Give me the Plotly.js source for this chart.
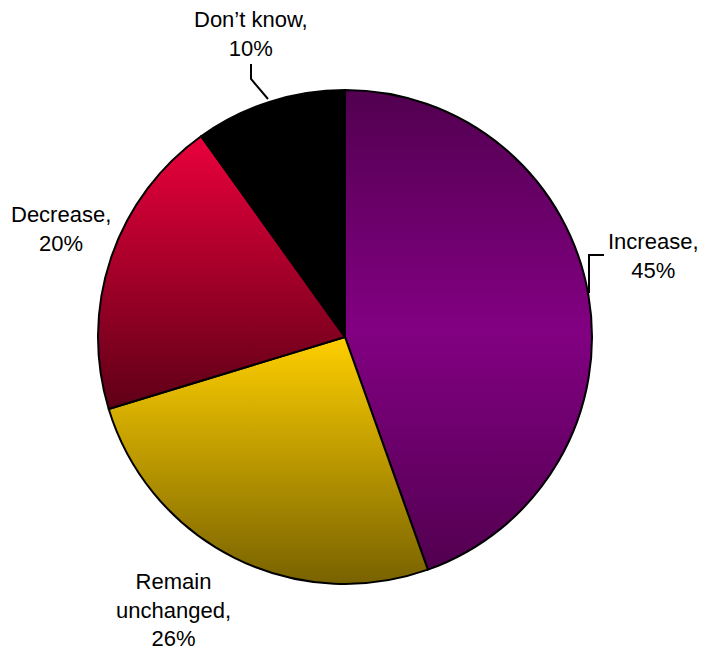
<!DOCTYPE html>
<html>
<head>
<meta charset="utf-8">
<script src="https://cdn.plot.ly/plotly-3.0.1.min.js"></script>
<style>html,body{margin:0;padding:0;background:#fff;}#chart{width:702px;height:652px;}</style>
</head>
<body>
<div id="chart"></div>
<script>
// ---- data ----
const categories = ['Increase', 'Remain unchanged', 'Decrease', 'Don’t know'];
const labelText  = ['Increase', 'Remain<br>unchanged', 'Decrease', 'Don’t know'];
const values     = [45, 26, 20, 10];

// ---- styles ----
const baseColors = ['#7a0078', '#d8ac00', '#b0002c', '#000000'];
const gradients = [
  [['0%', '#520050'], ['50%', '#820082'], ['100%', '#520050']],
  [['0%', '#fecf00'], ['100%', '#786200']],
  [['0%', '#ea003c'], ['100%', '#5e0016']],
  [['0%', '#000000'], ['100%', '#000000']]
];
// label centres in page pixels
const labelPos = [[653, 256], [173, 610], [61, 229], [251, 34]];
const leaders = [
  [[589, 293], [589, 255], [604, 255]],
  null,
  null,
  [[251, 64], [251, 79], [268, 99]]
];

const W = 702, H = 652;
const px = x => x / W;
const py = y => (H - y) / H;

const cx = 345, cy = 337, R = 247;

const annotations = categories.map((c, i) => ({
  xref: 'paper', yref: 'paper',
  x: px(labelPos[i][0]), y: py(labelPos[i][1]),
  xanchor: 'center', yanchor: 'middle',
  text: labelText[i] + ',<br>' + values[i] + '%',
  showarrow: false,
  font: {family: 'Arial, "Liberation Sans", sans-serif', size: 22, color: '#000'},
  align: 'center'
}));

const shapes = [];
leaders.forEach(pts => {
  if (!pts) return;
  let path = '';
  pts.forEach((p, k) => { path += (k ? ' L ' : 'M ') + px(p[0]) + ' ' + py(p[1]); });
  shapes.push({type: 'path', xref: 'paper', yref: 'paper', path: path,
               line: {color: '#000', width: 2}});
});

const trace = {
  type: 'pie',
  labels: categories,
  values: values,
  sort: false,
  direction: 'clockwise',
  rotation: 0,
  textinfo: 'none',
  hoverinfo: 'label+value',
  marker: {colors: baseColors, line: {color: '#000', width: 2}},
  domain: {x: [px(cx - R), px(cx + R)], y: [py(cy + R), py(cy - R)]},
  showlegend: false
};

const layout = {
  width: W, height: H,
  margin: {l: 0, r: 0, t: 0, b: 0},
  paper_bgcolor: '#fff',
  plot_bgcolor: '#fff',
  showlegend: false,
  annotations: annotations,
  shapes: shapes
};

Plotly.newPlot('chart', [trace], layout, {staticPlot: true}).then(gd => {
  const svg = gd.querySelector('.main-svg');
  const NS = 'http://www.w3.org/2000/svg';
  let defs = svg.querySelector('defs');
  if (!defs) { defs = document.createElementNS(NS, 'defs'); svg.insertBefore(defs, svg.firstChild); }
  gradients.forEach((stops, i) => {
    const g = document.createElementNS(NS, 'linearGradient');
    g.setAttribute('id', 'sliceGrad' + i);
    g.setAttribute('x1', '0'); g.setAttribute('y1', '0');
    g.setAttribute('x2', '0'); g.setAttribute('y2', '1');
    stops.forEach(s => {
      const st = document.createElementNS(NS, 'stop');
      st.setAttribute('offset', s[0]);
      st.setAttribute('stop-color', s[1]);
      g.appendChild(st);
    });
    defs.appendChild(g);
  });
  const paths = gd.querySelectorAll('.pielayer g.slice path.surface');
  paths.forEach((p, i) => { p.style.fill = 'url(#sliceGrad' + i + ')'; });
});
</script>
</body>
</html>
